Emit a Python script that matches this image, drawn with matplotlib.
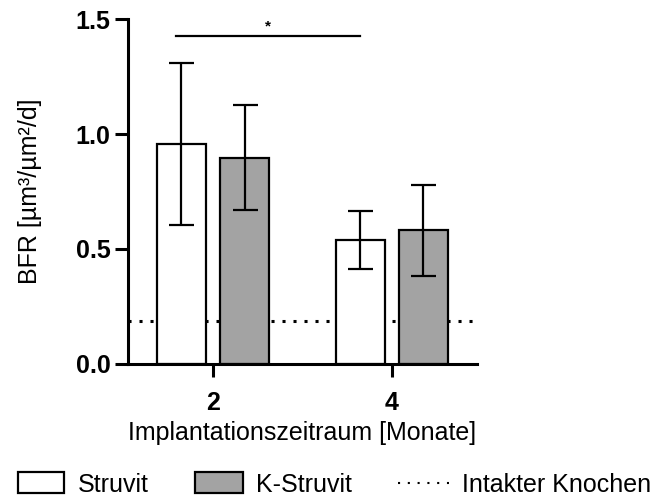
import matplotlib
matplotlib.use("Agg")
import matplotlib.pyplot as plt
from matplotlib.patches import Rectangle
from matplotlib.lines import Line2D
import numpy as np

plt.rcParams['font.family'] = ['Liberation Sans', 'DejaVu Sans']

groups = ["2", "4"]
series_names = ["Struvit", "K-Struvit"]
struvit_mean = [0.955, 0.537]
struvit_sd = [0.353, 0.126]
kstruvit_mean = [0.897, 0.580]
kstruvit_sd = [0.230, 0.200]
intact_bone = 0.187
sig_y = 1.428
y_ticks = [0.0, 0.5, 1.0, 1.5]
legend_labels = series_names + ["Intakter Knochen"]
colors = ['white', '#a3a3a3']

W, H = 655, 497
fig = plt.figure(figsize=(W / 100, H / 100), dpi=100)
ax = fig.add_axes([0.1954, 0.2686, 0.5324, 0.6926])

x = np.arange(len(groups))
w = 0.274
off = 0.177
lw = 1.6

ax.axhline(intact_bone, color='black', linestyle=(0, (1, 2.6)), linewidth=2.2, zorder=1)

ax.bar(x - off, struvit_mean, width=w, color=colors[0], edgecolor='black', linewidth=lw, zorder=2)
ax.bar(x + off, kstruvit_mean, width=w, color=colors[1], edgecolor='black', linewidth=lw, zorder=2)
ax.errorbar(x - off, struvit_mean, yerr=struvit_sd, fmt='none', ecolor='black',
            elinewidth=lw, capsize=9, capthick=lw, zorder=3)
ax.errorbar(x + off, kstruvit_mean, yerr=kstruvit_sd, fmt='none', ecolor='black',
            elinewidth=lw, capsize=9, capthick=lw, zorder=3)

# significance bar
x0 = x[0] - off - 0.03
x1 = x[1] - off
ax.plot([x0, x1], [sig_y, sig_y], color='black', lw=1.6, clip_on=False)
ax.text((x0 + x1) / 2, sig_y + 0.01, '*', ha='center', va='bottom',
        fontsize=11, fontweight='bold')

ax.set_xlim(-0.475, 1.475)
ax.set_ylim(0, 1.5)
ax.set_yticks(y_ticks)
ax.set_yticklabels([f"{v:.1f}" for v in y_ticks])
ax.set_xticks(x)
ax.set_xticklabels(groups)

for s in ['top', 'right']:
    ax.spines[s].set_visible(False)
for s in ['left', 'bottom']:
    ax.spines[s].set_linewidth(2.2)
ax.tick_params(axis='both', width=2.2, length=9.5, labelsize=18)
ax.tick_params(axis='y', pad=3)
ax.tick_params(axis='x', pad=10)
for lab in ax.get_xticklabels() + ax.get_yticklabels():
    lab.set_fontweight('bold')

ax.set_ylabel('BFR [µm³/µm²/d]', fontsize=18, labelpad=24)
ax.set_xlabel('Implantationszeitraum [Monate]', fontsize=18, labelpad=4.5)

# legend (manual, pixel-based layout)
def fx(px):
    return px / W

def fy(py):
    return 1 - py / H

box_top, box_bot = 472, 493
for (bx0, bx1), c in zip([(17.5, 64), (195.5, 242.5)], colors):
    fig.add_artist(Rectangle((fx(bx0), fy(box_bot)), fx(bx1) - fx(bx0), fy(box_top) - fy(box_bot),
                             transform=fig.transFigure, facecolor=c, edgecolor='black', linewidth=1.6))
fig.add_artist(Line2D([fx(398), fx(449)], [fy(483), fy(483)], transform=fig.transFigure,
                      color='black', linestyle=(0, (1, 3.7)), linewidth=1.5))
for tx, t in zip([77.5, 256.5, 461.5], legend_labels):
    fig.text(fx(tx), fy(491.5), t, fontsize=18, ha='left', va='baseline')

fig.savefig('out.png', dpi=100)
